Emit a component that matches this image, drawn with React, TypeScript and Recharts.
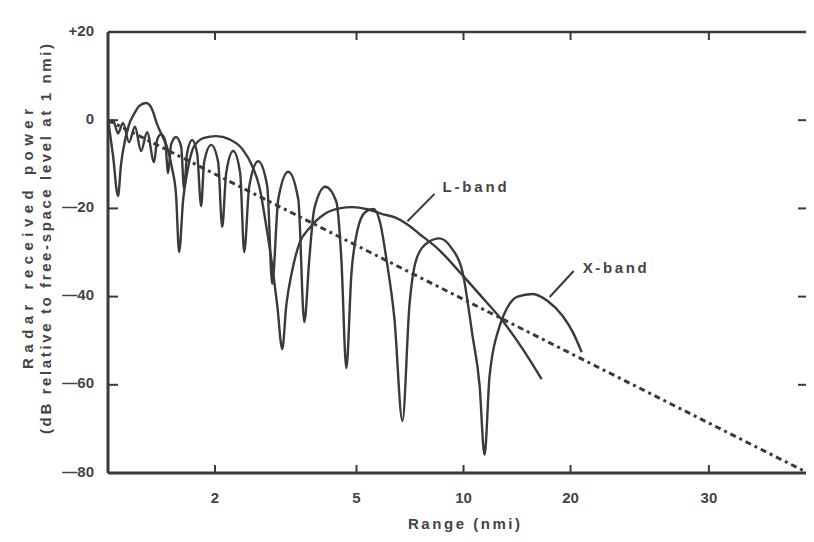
import React from 'react';
import { LineChart, Line, XAxis, YAxis, ReferenceLine, ReferenceDot } from 'recharts';

// Range (nmi) and received power (dB rel. free-space level at 1 nmi)
const lBandRange = [
  1.0, 1.033, 1.067, 1.088, 1.117, 1.146, 1.184, 1.223, 1.28, 1.33, 1.374, 1.419, 1.466, 1.515, 1.554,
  1.585, 1.627, 1.669, 1.747, 1.864, 2.015, 2.192, 2.385, 2.545, 2.663, 2.787, 2.897, 2.993,
  3.091, 3.173, 3.299, 3.452, 3.683, 4.059, 4.474, 4.868, 5.365, 5.913, 6.392, 6.909, 7.517,
  8.559, 9.744, 11.094, 12.879, 14.568, 16.585,
];
const lBandDb = [
  0.3, -8, -17.2, -10, -4.5, -1, 1.4, 3.2, 3.9, 2.5, -0.9, -3.5, -6.1, -11, -17,
  -29.9, -18, -12, -5.9, -4.0, -3.6, -4.3, -6.5, -10.4, -15, -24, -33, -42,
  -51.9, -42, -34, -28, -24.5, -21.3, -20.0, -19.7, -20.2, -21.3, -22, -23.5, -25.8,
  -29.5, -34.4, -39.5, -45.5, -51.5, -58.7,
];

const xBandRange = [
  1.0, 1.033, 1.067, 1.102, 1.146, 1.191, 1.239, 1.288, 1.348, 1.374, 1.41, 1.447, 1.476, 1.505,
  1.554, 1.606, 1.637, 1.669, 1.724, 1.781, 1.828, 1.864, 1.951, 2.041, 2.095, 2.15, 2.25,
  2.354, 2.416, 2.496, 2.646, 2.805, 2.897, 3.012, 3.214, 3.43, 3.566, 3.683, 3.804, 4.086,
  4.388, 4.533, 4.682, 4.836, 5.028, 5.296, 5.578, 5.837, 6.069, 6.392, 6.732, 7.045, 7.372,
  7.918, 8.559, 9.251, 9.936, 10.601, 11.094, 11.459, 11.837, 12.63, 13.217, 14.194, 15.645,
  17.244, 19.006, 20.279, 21.498,
];
const xBandDb = [
  -1.0, 0.0, -3.0, -0.6, -5.0, -1.5, -7.0, -2.7, -9.5, -4.5, -3.2, -4.5, -12.0, -5.5,
  -3.8, -6.0, -15.6, -7.5, -4.5, -7.5, -19.5, -9.5, -5.6, -9.5, -24.2, -12, -7.0,
  -12, -29.9, -15, -9.3, -15, -37.1, -18, -11.7, -18, -45.8, -31.5, -20.1, -15.1,
  -18.5, -31.5, -56.2, -35, -25, -20.8, -20.1, -23.5, -31.5, -45, -68.2, -42, -31.5,
  -27.8, -26.8, -29, -34.4, -48.9, -60, -75.9, -58, -46.7, -42.8, -40, -39.4,
  -41, -44.4, -48, -52.6,
];

const freeSpaceRange = [1, 93.1];
const freeSpaceDb = [0, -80];

const xTicks = [2, 5, 10, 20, 49];
const xTickLabels = ['2', '5', '10', '20', '30'];
const yTicks = [-80, -60, -40, -20, 0, 20];
const yTickLabels = ['\u201480', '\u201460', '\u201440', '\u201420', '0', '+20'];

const X_MIN = 1;
const X_MAX = 93.1;
const Y_MIN = -80;
const Y_MAX = 20;

const toPoints = (r: number[], db: number[]) => r.map((v, i) => ({ r: v, db: db[i] }));
const lBand = toPoints(lBandRange, lBandDb);
const xBand = toPoints(xBandRange, xBandDb);
const freeSpace = toPoints(freeSpaceRange, freeSpaceDb);

const INK = '#3a3a3a';
const TEXT = '#444';
const FONT = '"Liberation Sans", Arial, Helvetica, sans-serif';

// plot is 700 x 441 px; inward tick lengths converted to axis units
const PLOT_W = 700;
const PLOT_H = 441;
const xTickLen = (8 / PLOT_H) * (Y_MAX - Y_MIN);
const yTickFactor = Math.pow(X_MAX / X_MIN, 10 / PLOT_W);

const XTick = (props: any) => {
  const { x, payload, index } = props;
  const i = index ?? xTicks.indexOf(payload.value);
  return (
    <text x={x} y={489} textAnchor="middle" dominantBaseline="central"
      fontFamily={FONT} fontWeight="bold" fontSize={15} fill={TEXT}>
      {xTickLabels[i]}
    </text>
  );
};

const YTick = (props: any) => {
  const { y, payload, index } = props;
  const i = index ?? yTicks.indexOf(payload.value);
  return (
    <text x={86} y={y - 2} textAnchor="end" dominantBaseline="central"
      fontFamily={FONT} fontWeight="bold" fontSize={15} fill={TEXT}>
      {yTickLabels[i]}
    </text>
  );
};

const YTitle = () => (
  <g fill={TEXT} fontFamily={FONT} fontWeight="bold" fontSize={15}>
    <text x={19} y={231} transform="rotate(-90 19 231)" textAnchor="middle" dominantBaseline="central"
      textLength={260} lengthAdjust="spacing">
      Radar received power
    </text>
    <text x={37} y={231} transform="rotate(-90 37 231)" textAnchor="middle" dominantBaseline="central"
      textLength={390} lengthAdjust="spacing">
      (dB relative to free-space level at 1 nmi)
    </text>
  </g>
);

const XTitle = () => (
  <text x={456} y={515} textAnchor="middle" dominantBaseline="central" fill={TEXT}
    fontFamily={FONT} fontWeight="bold" fontSize={15} textLength={112} lengthAdjust="spacing">
    Range (nmi)
  </text>
);

const bandLabel = (text: string) => (props: any) => (
  <text x={props.cx} y={props.cy} dominantBaseline="central" fill={TEXT}
    fontFamily={FONT} fontWeight="bold" fontSize={15} textLength={64} lengthAdjust="spacing">
    {text}
  </text>
);

export default function App() {
  return (
    <div style={{ background: '#fff' }}>
      <LineChart width={804} height={524} margin={{ top: 24, right: 4, bottom: 1, left: 0 }}>
        <XAxis
          dataKey="r"
          type="number"
          scale="log"
          domain={[X_MIN, X_MAX]}
          allowDataOverflow
          ticks={xTicks}
          height={58}
          tickLine={false}
          tick={<XTick />}
          axisLine={{ stroke: INK, strokeWidth: 3 }}
          label={{ content: () => <XTitle /> }}
        />
        <YAxis
          type="number"
          domain={[Y_MIN, Y_MAX]}
          allowDataOverflow
          ticks={yTicks}
          width={100}
          tickLine={false}
          tick={<YTick />}
          axisLine={{ stroke: INK, strokeWidth: 3 }}
          label={{ content: () => <YTitle /> }}
        />

        {/* top and right frame */}
        <ReferenceLine y={Y_MAX} stroke={INK} strokeWidth={2.5} ifOverflow="visible" />
        <ReferenceLine x={X_MAX} stroke={INK} strokeWidth={2.5} ifOverflow="visible" />

        {/* inward ticks on all four sides */}
        {xTicks.map((v) => (
          <ReferenceLine key={`b${v}`} segment={[{ x: v, y: Y_MIN }, { x: v, y: Y_MIN + xTickLen }]}
            stroke={INK} strokeWidth={2} ifOverflow="visible" />
        ))}
        {xTicks.map((v) => (
          <ReferenceLine key={`t${v}`} segment={[{ x: v, y: Y_MAX }, { x: v, y: Y_MAX - xTickLen }]}
            stroke={INK} strokeWidth={2} ifOverflow="visible" />
        ))}
        {yTicks.slice(1, -1).map((v) => (
          <ReferenceLine key={`l${v}`} segment={[{ x: X_MIN, y: v }, { x: X_MIN * yTickFactor, y: v }]}
            stroke={INK} strokeWidth={2} ifOverflow="visible" />
        ))}
        {yTicks.slice(1, -1).map((v) => (
          <ReferenceLine key={`r${v}`} segment={[{ x: X_MAX / yTickFactor, y: v }, { x: X_MAX, y: v }]}
            stroke={INK} strokeWidth={2} ifOverflow="visible" />
        ))}

        <Line data={freeSpace} dataKey="db" type="linear" stroke={INK} strokeWidth={3}
          strokeDasharray="6 4 3 4" dot={false} isAnimationActive={false} />
        <Line data={lBand} dataKey="db" type="monotone" stroke={INK} strokeWidth={2.4}
          dot={false} isAnimationActive={false} />
        <Line data={xBand} dataKey="db" type="monotone" stroke={INK} strokeWidth={2.4}
          dot={false} isAnimationActive={false} />

        <ReferenceLine segment={[{ x: 6.955, y: -22.9 }, { x: 8.287, y: -16.7 }]} stroke={INK} strokeWidth={2} />
        <ReferenceLine segment={[{ x: 17.47, y: -40.1 }, { x: 20.41, y: -34.2 }]} stroke={INK} strokeWidth={2} />
        <ReferenceDot x={8.73} y={-15.1} r={0} shape={bandLabel('L-band')} />
        <ReferenceDot x={21.63} y={-33.3} r={0} shape={bandLabel('X-band')} />
      </LineChart>
    </div>
  );
}
